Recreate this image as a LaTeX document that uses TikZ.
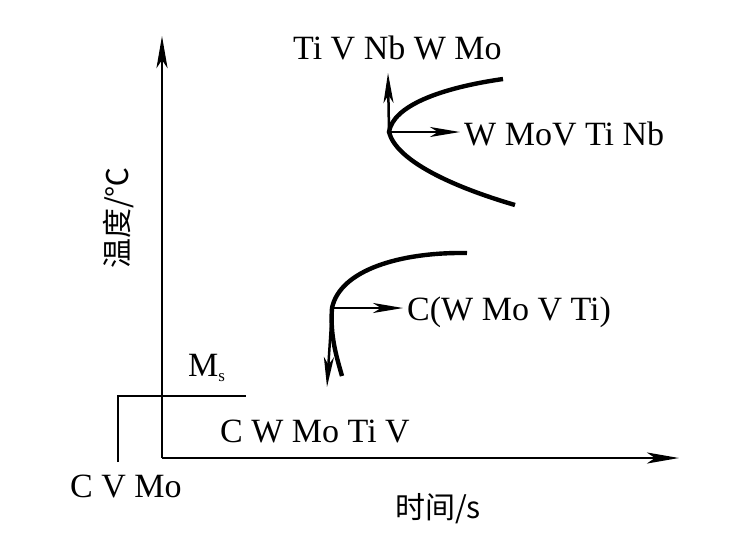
\documentclass[tikz,border=0pt]{standalone}
\usepackage{fontspec}
\setmainfont{Liberation Serif}
\newfontfamily\cjk{Noto Sans CJK SC}
\usetikzlibrary{arrows.meta}
\tikzset{
  axis/.style={line width=2.8pt,-{Stealth[length=32pt,width=11pt,inset=8pt]}},
  curve/.style={line width=4.4pt},
  marrow/.style={line width=2.5pt,-{Stealth[length=30pt,width=10pt,inset=8pt]}},
  thin/.style={line width=2.5pt},
  lbl/.style={inner sep=0pt,anchor=base west,font=\fontsize{34}{38}\selectfont},
  clbl/.style={inner sep=0pt,font=\cjk\fontsize{30}{34}\selectfont}
}
\begin{document}
\begin{tikzpicture}[x=1pt,y=-1pt]
\useasboundingbox (0,0) rectangle (742,542);
% axes
\coordinate (O) at (162,458);
\coordinate (Ytop) at (162,36);
\coordinate (Xend) at (679,458);
\draw[axis] (O) -- (Ytop);
\draw[axis] (O) -- (Xend);
% Ms line
\coordinate (ms0) at (118,462);
\coordinate (ms1) at (118,396);
\coordinate (ms2) at (246,396);
\draw[thin] (ms0) -- (ms1) -- (ms2);
\node[lbl] (mslbl) at (188,376) {M\raisebox{-5pt}{\fontsize{17}{19}\selectfont s}};
\node[lbl] (cwmotiv) at (220,442) {C W Mo Ti V};
\node[lbl] (cvmo) at (70,497) {C V Mo};
% upper curve
\coordinate (u1) at (503,79);
\coordinate (un) at (389,132);
\coordinate (u2) at (515,205);
\draw[curve] (u1) .. controls (440,88) and (393,106) .. (un) .. controls (396,160) and (450,186) .. (u2);
\coordinate (uup) at (388,73);
\coordinate (urt) at (460,132);
\draw[marrow] (un) -- (uup);
\draw[marrow] (un) -- (urt);
\node[lbl] (toplbl) at (293,59) {Ti V Nb W Mo};
\node[lbl] (rtlbl) at (464,145) {W MoV Ti Nb};
% lower curve
\coordinate (l1) at (467,253);
\coordinate (ln) at (332,308);
\coordinate (l2) at (342,376);
\draw[curve] (l1) .. controls (400,252) and (340,270) .. (ln) .. controls (330,335) and (336,355) .. (l2);
\coordinate (ldn) at (327,387);
\coordinate (lrt) at (403,308);
\draw[marrow] (ln) -- (ldn);
\draw[marrow] (ln) -- (lrt);
\node[lbl] (clbl2) at (407,320) {C(W Mo V Ti)};
% axis labels
\node[clbl] (xlbl) at (438,509) {时间/s};
\node[clbl,rotate=90] (ylbl) at (119,218) {温度/℃};
\end{tikzpicture}
\end{document}
